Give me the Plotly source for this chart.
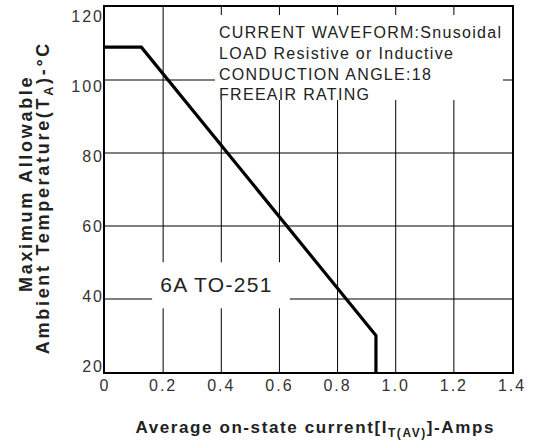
import json
import plotly.graph_objects as go

# Derating curve: average on-state current (A) vs. max ambient temperature (°C)
current = [0.0, 0.125, 0.932, 0.932]
temperature = [109, 109, 30, 20]

x_ticks = [0, 0.2, 0.4, 0.6, 0.8, 1.0, 1.2, 1.4]
x_labels = ["0", "0.2", "0.4", "0.6", "0.8", "1.0", "1.2", "1.4"]
y_ticks = [20, 40, 60, 80, 100, 120]
y_labels = ["20", "40", "60", "80", "100", "120"]

conditions = [
    "CURRENT WAVEFORM:Snusoidal",
    "LOAD Resistive or Inductive",
    "CONDUCTION ANGLE:18",
    "FREEAIR RATING",
]
device_label = "6A TO-251"
y_title_lines = ["Maximum Allowable", "Ambient Temperature(T<sub>A</sub>)-°C"]
x_title = "Average on-state current[I<sub>T(AV)</sub>]-Amps"

X_RANGE = [0, 1.4]
Y_RANGE = [20, 120]

FONT = "Liberation Sans, Arial, sans-serif"
TEXT = "#222222"

fig = go.Figure()
fig.add_trace(go.Scatter(
    x=current, y=temperature, mode="lines",
    line=dict(color="black", width=3.2),
    hoverinfo="skip", showlegend=False,
))
# same curve bound to the label axis (not drawn) so that axis gets rendered
fig.add_trace(go.Scatter(
    x=current, y=temperature, mode="lines", yaxis="y2",
    line=dict(color="rgba(0,0,0,0)", width=0),
    hoverinfo="skip", showlegend=False,
))

frame = dict(showline=True, mirror=True, linecolor="#000000", linewidth=1.5,
             zeroline=False, showgrid=False, ticks="")
label_font = dict(family=FONT, size=16, color="#333333")

# grid lines at every inner tick
grid = [dict(type="line", xref="x", yref="y domain", x0=v, x1=v, y0=0, y1=1,
             line=dict(color="black", width=1), layer="below")
        for v in x_ticks[1:-1]]
grid += [dict(type="line", xref="x domain", yref="y", x0=0, x1=1, y0=v, y1=v,
              line=dict(color="black", width=1), layer="below")
         for v in y_ticks[1:-1]]

# white panels behind the text blocks
panels = [
    dict(type="rect", xref="x", yref="y", x0=0.378, x1=1.369, y0=94.5, y1=117.8,
         fillcolor="white", line=dict(width=0), layer="above"),
    dict(type="rect", xref="x", yref="y", x0=0.162, x1=0.636, y0=37.5, y1=50.1,
         fillcolor="white", line=dict(width=0), layer="above"),
]

annotations = [
    dict(xref="x", yref="y", x=0.385, y=116.0, xanchor="left", yanchor="top",
         align="left", showarrow=False, text="<br>".join(conditions),
         font=dict(family=FONT, size=16, color=TEXT)),
    dict(xref="x", yref="y", x=0.383, y=44.0, xanchor="center", yanchor="middle",
         showarrow=False, text=device_label,
         font=dict(family=FONT, size=21, color=TEXT)),
    dict(xref="paper", yref="paper", x=-0.194, y=0.515, xanchor="center", yanchor="middle",
         textangle=-90, showarrow=False, text="<b>" + y_title_lines[0] + "</b>",
         font=dict(family=FONT, size=18, color=TEXT)),
    dict(xref="paper", yref="paper", x=-0.147, y=0.477, xanchor="center", yanchor="middle",
         textangle=-90, showarrow=False, text="<b>" + y_title_lines[1] + "</b>",
         font=dict(family=FONT, size=18, color=TEXT)),
    dict(xref="paper", yref="paper", x=0.517, y=-0.156, xanchor="center", yanchor="middle",
         showarrow=False, text="<b>" + x_title + "</b>",
         font=dict(family=FONT, size=17, color=TEXT)),
]
# character spacing (px) for each annotation above, in order
annotation_spacing = [1.3, 1.3, 2.7, 2.7, 1.6]

fig.update_layout(
    template="none",
    width=537, height=444,
    margin=dict(l=105, r=25, t=7, b=72),
    paper_bgcolor="white", plot_bgcolor="white",
    xaxis=dict(range=X_RANGE, tickmode="array", tickvals=x_ticks, ticktext=x_labels,
               tickfont=label_font, ticklabelstandoff=-2, **frame),
    yaxis=dict(range=Y_RANGE, tickmode="array", tickvals=y_ticks,
               showticklabels=False, **frame),
    # label axis for the temperature scale, set slightly looser than the grid
    yaxis2=dict(overlaying="y", side="left", range=[18.5, 122.7], tickmode="array",
                tickvals=y_ticks, ticktext=y_labels, tickfont=label_font,
                showline=False, showgrid=False, zeroline=False, ticks="",
                ticklabeloverflow="allow"),
    shapes=grid + panels,
    annotations=annotations,
)

spacing_js = (
    "var s=document.createElement('style');"
    "s.textContent='.main-svg .xtick text,.main-svg .y2tick text{letter-spacing:2px}';"
    "document.head.appendChild(s);"
    "var sp=" + json.dumps(annotation_spacing) + ";"
    "document.querySelectorAll('.annotation-text').forEach(function(t,i){"
    "if(i<sp.length){t.style.letterSpacing=sp[i]+'px';}});"
)

fig.write_html("out.html", post_script=spacing_js)
